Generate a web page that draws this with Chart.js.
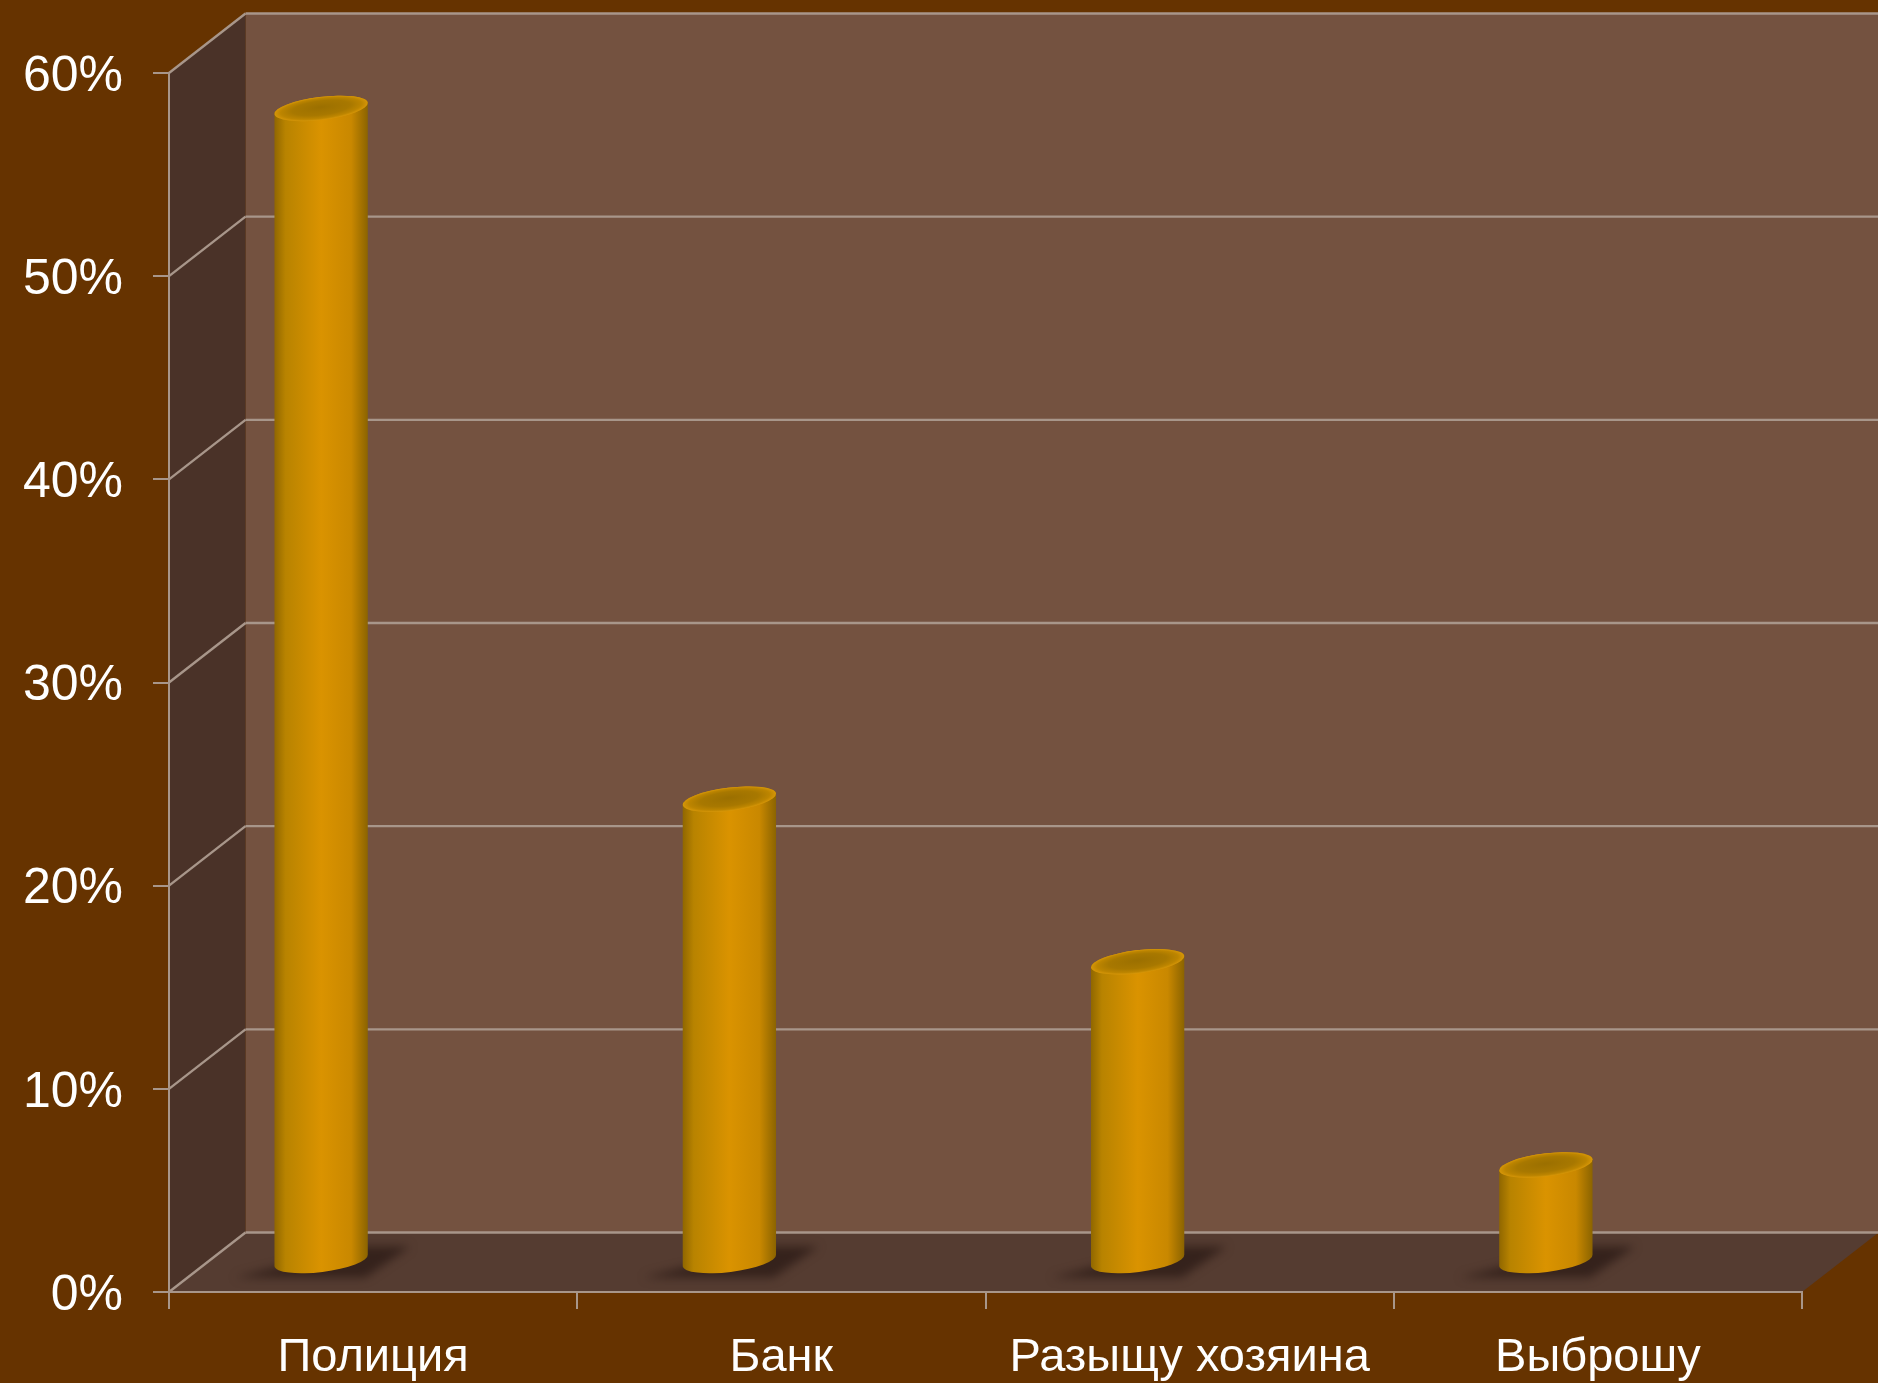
<!DOCTYPE html>
<html lang="ru">

<head>
  <meta charset="UTF-8">
  <title>Chart</title>
  <script src="https://cdn.jsdelivr.net/npm/chart.js"></script>
  <style>
    html, body { margin: 0; padding: 0; background: #663300; overflow: hidden; }
    canvas { display: block; }
  </style>
</head>

<body>
  <canvas id="chart" width="1878" height="1383"></canvas>

  <script>
    const categories = ["Полиция", "Банк", "Разыщу хозяина", "Выброшу"];
    const shares = [57, 23, 15, 5];
    const yTicks = [0, 10, 20, 30, 40, 50, 60];

    // depth of the fake 3d box, and where the cylinders stand inside it
    const depthX = 76.5, depthY = -59.5;
    const barShiftX = -52, topShiftY = -25.5, baseShiftY = -30.5;
    const capRadiusY = 11.5, tilt = -7 * Math.PI / 180;

    const lineColor = "#a8968a";

    function poly(ctx, pts, fill) {
      ctx.beginPath();
      pts.forEach((p, i) => i ? ctx.lineTo(p[0], p[1]) : ctx.moveTo(p[0], p[1]));
      ctx.closePath();
      ctx.fillStyle = fill;
      ctx.fill();
    }

    function seg(ctx, x1, y1, x2, y2) {
      ctx.beginPath();
      ctx.moveTo(x1, y1);
      ctx.lineTo(x2, y2);
      ctx.stroke();
    }

    const box3d = {
      id: "box3d",
      beforeDraw(chart) {
        const ctx = chart.ctx, x = chart.scales.x, y = chart.scales.y;
        const l = x.left, r = x.right, t = y.getPixelForValue(60), b = y.getPixelForValue(0);
        // y labels sit a little under their ticks in the original
        y.getLabelItems().forEach(item => { item.options.translation[1] = y.getPixelForValue(item.label.replace("%", "")) + 4; });
        ctx.save();
        ctx.fillStyle = "#663300";
        ctx.fillRect(0, 0, chart.width, chart.height);
        // back wall, side wall, floor
        poly(ctx, [[l + depthX, t + depthY], [chart.width, t + depthY], [chart.width, b + depthY], [l + depthX, b + depthY]], "#745240");
        poly(ctx, [[l, t], [l + depthX, t + depthY], [l + depthX, b + depthY], [l, b]], "#4a3228");
        poly(ctx, [[l, b], [l + depthX, b + depthY], [r + depthX, b + depthY], [r, b]], "#553c31");
        ctx.strokeStyle = lineColor;
        ctx.lineWidth = 2.4;
        yTicks.forEach(v => {
          const py = y.getPixelForValue(v);
          seg(ctx, l, py, l + depthX, py + depthY);
          seg(ctx, l + depthX, py + depthY, chart.width, py + depthY);
        });
        ctx.restore();
      },
      beforeDatasetDraw(chart, args) {
        const ctx = chart.ctx;
        const bars = args.meta.data;
        ctx.save();
        // floor shadows first
        bars.forEach(bar => {
          const cx = bar.x + barShiftX, by = bar.base + baseShiftY;
          ctx.filter = "blur(5px)";
          poly(ctx, [[cx - 86, by + 17], [cx + 44, by + 17], [cx + 89, by - 14], [cx + 39, by - 14]], "rgba(45,28,22,0.8)");
          ctx.filter = "none";
        });
        bars.forEach(bar => drawCylinder(ctx, bar.x + barShiftX, bar.y + topShiftY, bar.base + baseShiftY, bar.width / 2));
        ctx.restore();
        return false;
      }
    };

    function drawCylinder(ctx, cx, topY, baseY, r) {
      const g = ctx.createLinearGradient(cx - r, 0, cx + r, 0);
      g.addColorStop(0, "#8f6600");
      g.addColorStop(0.12, "#b88300");
      g.addColorStop(0.5, "#da9300");
      g.addColorStop(0.82, "#c98800");
      g.addColorStop(1, "#8a6300");
      ctx.beginPath();
      ctx.ellipse(cx, baseY, r, capRadiusY, tilt, 0, Math.PI, false);
      ctx.ellipse(cx, topY, r, capRadiusY, tilt, Math.PI, Math.PI * 2, false);
      ctx.closePath();
      ctx.fillStyle = g;
      ctx.fill();
      // cap: dark inside fading out to a soft bright rim
      ctx.save();
      ctx.translate(cx, topY);
      ctx.rotate(tilt);
      ctx.scale(1, capRadiusY / r);
      const c = ctx.createRadialGradient(0, -r * 0.12, 2, 0, 0, r);
      c.addColorStop(0, "#9c7000");
      c.addColorStop(0.6, "#a87800");
      c.addColorStop(0.86, "#bd8500");
      c.addColorStop(1, "#d69608");
      ctx.beginPath();
      ctx.arc(0, 0, r, 0, Math.PI * 2);
      ctx.fillStyle = c;
      ctx.fill();
      ctx.restore();
    }

    new Chart(document.getElementById("chart"), {
      type: "bar",
      data: {
        labels: categories,
        datasets: [{ data: shares, barThickness: 94, backgroundColor: "#da9300" }],
      },
      options: {
        responsive: false,
        animation: false,
        layout: { padding: { top: 73, right: 76, left: 0, bottom: 0 } },
        plugins: { legend: { display: false }, tooltip: { enabled: false } },
        scales: {
          x: {
            grid: { drawOnChartArea: false, color: lineColor, lineWidth: 2, tickLength: 17 },
            border: { color: lineColor, width: 2 },
            ticks: { color: "#ffffff", padding: 21, maxRotation: 0, font: { family: "'Liberation Sans'", size: 47 } },
            afterFit(s) { s.height = 91; s.paddingLeft = 0; s.paddingRight = 0; },
          },
          y: {
            min: 0,
            max: 60,
            afterBuildTicks(s) { s.ticks = yTicks.map(v => ({ value: v })); },
            grid: { drawOnChartArea: false, color: lineColor, lineWidth: 2, tickLength: 16 },
            border: { color: lineColor, width: 2 },
            ticks: { color: "#ffffff", padding: 30, font: { family: "'Liberation Sans'", size: 50 }, callback: v => v + "%" },
            afterFit(s) { s.width = 169; s.paddingTop = 0; s.paddingBottom = 0; },
          },
        },
      },
      plugins: [box3d],
    });
  </script>
</body>

</html>
